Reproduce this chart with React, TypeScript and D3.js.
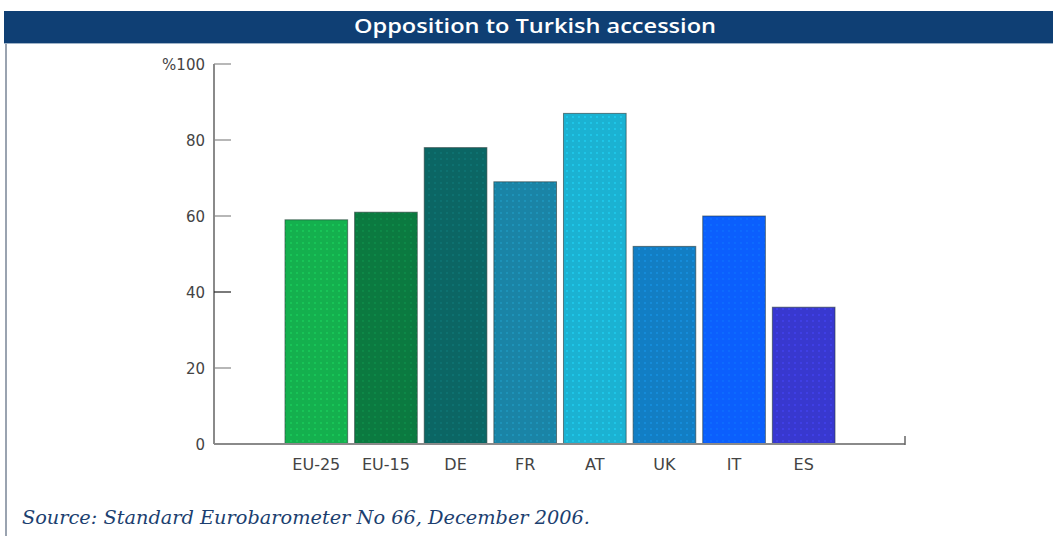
import React from "react";
import * as d3 from "d3";

const categories = ["EU-25", "EU-15", "DE", "FR", "AT", "UK", "IT", "ES"];
const values = [59, 61, 78, 69, 87, 52, 60, 36];
const barColors = ["#14b04e", "#0b7a40", "#0b6664", "#1a84a6", "#1bb2d2", "#127ec4", "#0b5ffd", "#3838cf"];
const yTicks = [0, 20, 40, 60, 80, 100];
const title = "Opposition to Turkish accession";
const source = "Source: Standard Eurobarometer No 66, December 2006.";

export default function App() {
  const W = 1053, H = 540;
  const x = d3.scaleBand<string>().domain(categories).range([281.5, 838.5]).paddingInner(0.1).paddingOuter(0.05);
  const y = d3.scaleLinear().domain([0, 100]).range([444, 64]);
  const axisX = 214;
  const sans = "'DejaVu Sans', Verdana, sans-serif";
  return (
    <div style={{ position: "absolute", left: 0, top: 0, width: W, height: H, background: "#fff" }}>
      <svg width={W} height={H} style={{ display: "block" }}>
        <defs>
          {barColors.map((c, i) => (
            <pattern key={i} id={`p${i}`} width={6} height={6} patternUnits="userSpaceOnUse">
              <rect width={6} height={6} fill={c} />
              <circle cx={3} cy={3} r={0.9} fill={d3.color(c)!.brighter(0.6).formatHex()} opacity={0.7} />
            </pattern>
          ))}
        </defs>
        <rect x={0} y={0} width={W} height={H} fill="#fff" />
        {/* title bar */}
        <rect x={4} y={11} width={W - 4} height={32} fill="#0f3f74" />
        <line x1={4} x2={W} y1={43.5} y2={43.5} stroke="#9fb3c8" strokeWidth={1} />
        <text x={535} y={33} textAnchor="middle" fill="#fff" fontFamily="'Open Sans', sans-serif" fontWeight={600} fontSize={20}
          textLength={362} lengthAdjust="spacingAndGlyphs">{title}</text>
        {/* left border */}
        <line x1={6} x2={6} y1={44} y2={536} stroke="#9aa3b0" strokeWidth={2} />
        {/* bars */}
        {categories.map((c, i) => (
          <rect key={c} x={x(c)} y={y(values[i])} width={x.bandwidth()} height={y(0) - y(values[i])}
            fill={`url(#p${i})`} stroke="#2a3a3a" strokeOpacity={0.6} strokeWidth={1} />
        ))}
        {/* y axis */}
        <line x1={axisX} x2={axisX} y1={y(100)} y2={y(0)} stroke="#8a8a8a" strokeWidth={2} />
        {yTicks.map(t => (
          <g key={t}>
            {t > 0 && <line x1={axisX} x2={231} y1={y(t)} y2={y(t)} stroke={t === 40 ? "#222" : "#888"} strokeWidth={1.2} />}
            <text x={205} y={y(t) + 6} textAnchor="end" fill="#444" fontFamily={sans} fontSize={15}>{t === 100 ? "%100" : t}</text>
          </g>
        ))}
        {/* x axis */}
        <line x1={axisX} x2={905} y1={y(0)} y2={y(0)} stroke="#8a8a8a" strokeWidth={2} />
        <line x1={905} x2={905} y1={y(0) + 1} y2={y(0) - 8} stroke="#666" strokeWidth={1.5} />
        {categories.map(c => (
          <text key={c} x={(x(c) ?? 0) + x.bandwidth() / 2} y={470} textAnchor="middle" fill="#444" fontFamily={sans} fontSize={16}>{c}</text>
        ))}
        {/* source */}
        <text x={22} y={524} fill="#1c3f70" fontFamily="'DejaVu Serif', 'Liberation Serif', serif" fontStyle="italic" fontSize={18}
          textLength={568} lengthAdjust="spacingAndGlyphs">{source}</text>
      </svg>
    </div>
  );
}
